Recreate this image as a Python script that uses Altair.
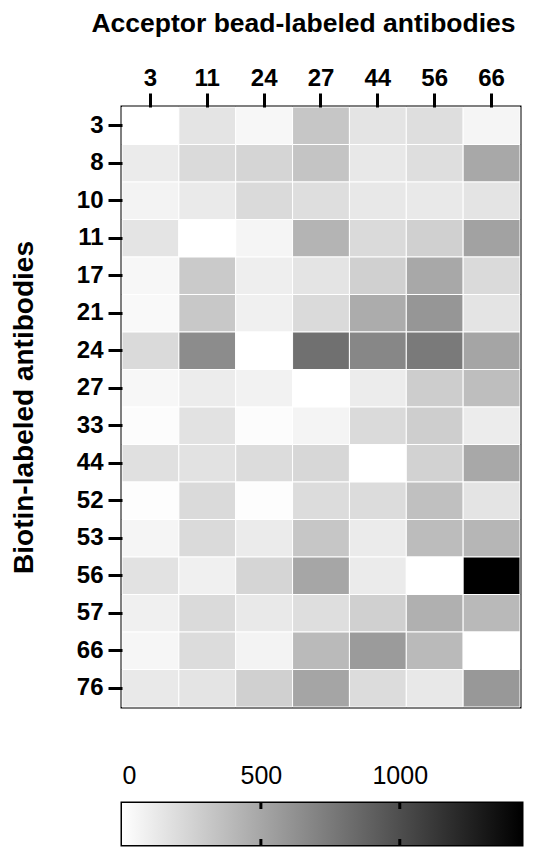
import altair as alt
import pandas as pd

acceptor = ["3", "11", "24", "27", "44", "56", "66"]
biotin = ["3", "8", "10", "11", "17", "21", "24", "27", "33", "44", "52", "53", "56", "57", "66", "76"]

r3 = [0, 153, 45, 322, 153, 186, 57]
r8 = [113, 209, 237, 333, 130, 186, 492]
r10 = [68, 119, 209, 186, 130, 124, 153]
r11 = [153, 0, 57, 424, 209, 266, 525]
r17 = [45, 299, 96, 153, 266, 492, 209]
r21 = [34, 311, 85, 209, 469, 593, 153]
r24 = [209, 650, 0, 808, 678, 751, 509]
r27 = [45, 107, 73, 0, 107, 283, 367]
r33 = [17, 164, 17, 62, 209, 277, 107]
r44 = [175, 164, 198, 226, 0, 254, 492]
r52 = [11, 209, 11, 198, 198, 356, 153]
r53 = [57, 209, 113, 322, 113, 379, 412]
r56 = [164, 85, 237, 503, 113, 0, 1440]
r57 = [85, 209, 124, 186, 266, 446, 396]
r66 = [51, 198, 68, 390, 565, 390, 0]
r76 = [124, 153, 266, 509, 198, 130, 582]
rows = [r3, r8, r10, r11, r17, r21, r24, r27, r33, r44, r52, r53, r56, r57, r66, r76]

vmax = 1440
cb_ticks = [500, 1000]
cb_labels = [0, 500, 1000]

records = []
for b, vals in zip(biotin, rows):
    for a, v in zip(acceptor, vals):
        records.append({"biotin": b, "acceptor": a, "signal": v})
df = pd.DataFrame(records)

FONT = "Liberation Sans"
color_scale = alt.Scale(domain=[0, vmax], range=["white", "black"], interpolate="rgb")

heat = alt.Chart(df).mark_rect(stroke="white", strokeWidth=1).encode(
    x=alt.X("acceptor:N", sort=acceptor,
            axis=alt.Axis(orient="top", title="Acceptor bead-labeled antibodies", labelAngle=0,
                          labelFontSize=24, labelFontWeight="bold", labelPadding=3,
                          titleFontSize=26.5, titleFontWeight="bold", titlePadding=29,
                          titleX=181, titleAlign="center")),
    y=alt.Y("biotin:N", sort=biotin,
            axis=alt.Axis(title="Biotin-labeled antibodies",
                          labelFontSize=24, labelFontWeight="bold", labelPadding=5,
                          titleFontSize=28, titleFontWeight="bold", titlePadding=38)),
    color=alt.Color("signal:Q", scale=color_scale, legend=None),
).properties(width=398, height=600)

cb_df = pd.DataFrame({"start": [0], "end": [vmax]})
x_cb = alt.Scale(domain=[0, vmax], nice=False, zero=True)
grad = alt.Chart(cb_df).mark_rect(
    fill={"x1": 0, "y1": 0, "x2": 1, "y2": 0, "gradient": "linear",
          "stops": [{"offset": 0, "color": "white"}, {"offset": 1, "color": "black"}]}
).encode(
    x=alt.X("start:Q", scale=x_cb,
            axis=alt.Axis(orient="top", values=cb_labels, format="d", title=None, ticks=False, tickSize=0,
                          domain=False, grid=False, labelFontSize=25, labelFontWeight="normal",
                          labelPadding=15)),
    x2="end:Q",
    y=alt.value(0),
    y2=alt.value(42),
)
tick_df = pd.DataFrame({"start": cb_ticks})
tick_top = alt.Chart(tick_df).mark_rule(color="black", strokeWidth=3).encode(
    x=alt.X("start:Q", scale=x_cb), y=alt.value(0), y2=alt.value(6))
tick_bot = alt.Chart(tick_df).mark_rule(color="black", strokeWidth=3).encode(
    x=alt.X("start:Q", scale=x_cb), y=alt.value(36), y2=alt.value(42))
cbar = alt.layer(grad, tick_top, tick_bot).properties(width=400, height=42)

chart = alt.vconcat(heat, cbar, spacing=52).properties(padding=0).configure_axis(
    labelFont=FONT, titleFont=FONT, labelColor="black", titleColor="black",
    tickColor="black", tickWidth=3, tickSize=14, domain=False, grid=False
).configure_view(stroke="black", strokeWidth=3)

chart.save("out.html", embed_options={"renderer": "svg", "actions": False})
